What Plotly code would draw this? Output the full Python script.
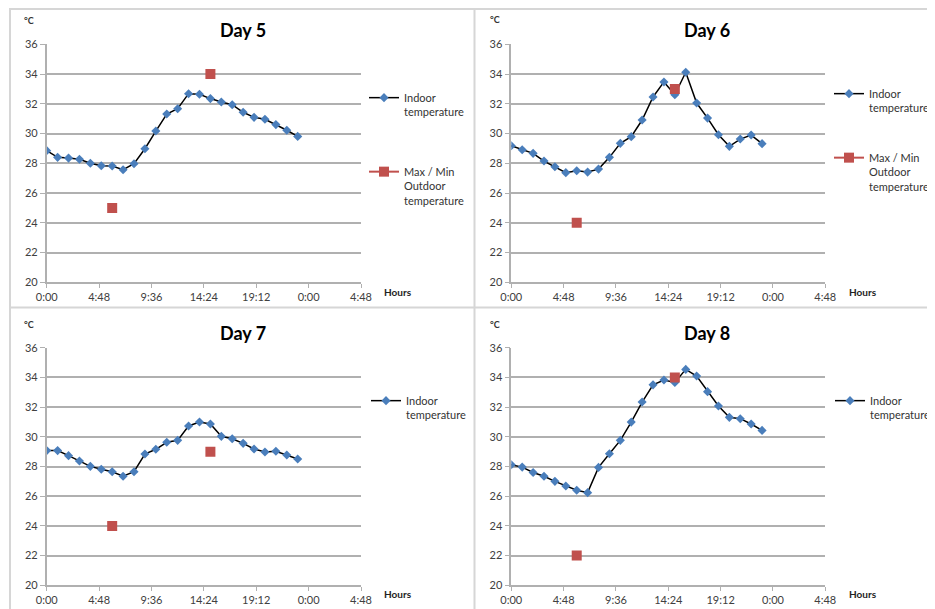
import plotly.graph_objects as go

# page offset of the figure inside the browser body (default body margin)
OFF = 8
W_PAGE, H_PAGE = 935, 609
W, H = W_PAGE - OFF, H_PAGE - OFF

# ---------------- data ----------------
hours = list(range(24))
outdoor_hours = [6, 15]
day_titles = ["Day 5", "Day 6", "Day 7", "Day 8"]

day5_indoor = [28.85, 28.4, 28.35, 28.27, 28.0, 27.84, 27.82, 27.57, 27.97, 28.98, 30.17, 31.31,
               31.67, 32.68, 32.64, 32.35, 32.12, 31.94, 31.43, 31.09, 30.96, 30.6, 30.22, 29.81]
day6_indoor = [29.18, 28.91, 28.67, 28.15, 27.77, 27.37, 27.5, 27.41, 27.61, 28.4, 29.34, 29.79,
               30.91, 32.46, 33.47, 32.61, 34.12, 32.05, 31.04, 29.92, 29.14, 29.63, 29.9, 29.32]
day7_indoor = [29.07, 29.07, 28.73, 28.37, 28.01, 27.81, 27.65, 27.34, 27.65, 28.84, 29.16, 29.63,
               29.76, 30.73, 31.0, 30.86, 30.03, 29.87, 29.56, 29.18, 28.98, 29.03, 28.77, 28.5]
day8_indoor = [28.12, 27.96, 27.6, 27.34, 27.0, 26.69, 26.4, 26.24, 27.94, 28.86, 29.76, 30.99,
               32.34, 33.5, 33.82, 33.66, 34.54, 34.09, 33.04, 32.07, 31.31, 31.22, 30.86, 30.43]

day5_outdoor = [25, 34]
day6_outdoor = [24, 33]
day7_outdoor = [24, 29]
day8_outdoor = [22, 34]

x_tick_vals = [0, 4.8, 9.6, 14.4, 19.2, 24, 28.8]
x_tick_text = ["0:00", "4:48", "9:36", "14:24", "19:12", "0:00", "4:48"]
y_tick_vals = [20, 22, 24, 26, 28, 30, 32, 34, 36]

indoor_name = "Indoor<br>temperature"
outdoor_name = "Max / Min<br>Outdoor<br>temperature"

indoor_all = [day5_indoor, day6_indoor, day7_indoor, day8_indoor]
outdoor_all = [day5_outdoor, day6_outdoor, day7_outdoor, day8_outdoor]
outdoor_in_legend = [True, True, False, False]

# ---------------- layout geometry (page pixels) ----------------
# plot areas: left, right, top, bottom
boxes = [(46.7, 361.0, 44.3, 282.3), (511.3, 825.3, 44.3, 282.3),
         (46.7, 361.0, 347.7, 585.3), (511.3, 825.3, 347.7, 585.3)]
title_pos = [(242.7, 30), (707, 30), (242.7, 333), (707, 333)]
deg_pos = [(29, 21), (494.7, 20), (29, 324), (494.7, 324)]
hours_pos = [(398, 292), (862.7, 292), (398, 594), (862.7, 594)]
# (x where legend text starts, y of first legend text line)
legend_indoor_pos = [(404, 97), (869, 93), (406, 400), (870, 400)]
legend_outdoor_pos = [(404, 171), (869, 157)]

def px(x):
    return (x - OFF) / W

def py(y):
    return 1 - (y - OFF) / H

FONT = "Lato, 'Open Sans', sans-serif"
GRID = "#b0b0b0"
TXT = "#404040"

fig = go.Figure()
layout = dict(
    width=W, height=H, margin=dict(l=0, r=0, t=0, b=0, autoexpand=False),
    paper_bgcolor="white", plot_bgcolor="white",
    font=dict(family=FONT, size=11, color=TXT),
    annotations=[], shapes=[],
)

def legend_box(pos):
    lx, ly = pos
    return dict(x=px(lx - 40), y=py(ly - 13), xanchor="left", yanchor="top",
                bgcolor="rgba(0,0,0,0)", itemwidth=30, valign="top",
                font=dict(size=11, color="#333333", family=FONT))

legend_count = 0
for i in range(4):
    l, r, t, b = boxes[i]
    sfx = "" if i == 0 else str(i + 1)
    layout["xaxis" + sfx] = dict(
        domain=[px(l), px(r)], anchor="y" + sfx, range=[0, 28.8],
        tickvals=x_tick_vals, ticktext=x_tick_text, ticks="outside", ticklen=4,
        tickcolor=GRID, showline=True, linecolor=GRID, linewidth=1.5,
        showgrid=False, zeroline=False, tickfont=dict(size=11, color=TXT),
    )
    layout["yaxis" + sfx] = dict(
        domain=[py(b), py(t)], anchor="x" + sfx, range=[20, 36],
        tickvals=y_tick_vals, ticks="outside", ticklen=5, tickcolor=GRID,
        showline=True, linecolor=GRID, linewidth=1.5, showgrid=True,
        gridcolor=GRID, gridwidth=1.5, zeroline=False,
        tickfont=dict(size=11, color=TXT),
    )

    legend_count += 1
    lg_in = "legend" if legend_count == 1 else "legend%d" % legend_count
    layout[lg_in] = legend_box(legend_indoor_pos[i])
    fig.add_trace(go.Scatter(
        x=hours, y=indoor_all[i], mode="lines+markers", name=indoor_name,
        line=dict(color="black", width=1.5),
        marker=dict(symbol="diamond", size=7, color="#4a7ebb"),
        xaxis="x" + sfx, yaxis="y" + sfx, legend=lg_in, showlegend=True,
    ))

    ox, oy = [], []
    for k, (hh, vv) in enumerate(zip(outdoor_hours, outdoor_all[i])):
        if k > 0:
            ox.append(None)
            oy.append(None)
        ox.append(hh)
        oy.append(vv)
    if outdoor_in_legend[i]:
        legend_count += 1
        lg_out = "legend%d" % legend_count
        layout[lg_out] = legend_box(legend_outdoor_pos[i])
    else:
        lg_out = lg_in
    fig.add_trace(go.Scatter(
        x=ox, y=oy, mode="lines+markers", name=outdoor_name, connectgaps=False,
        line=dict(color="#c0504d", width=2),
        marker=dict(symbol="square", size=10, color="#c0504d"),
        xaxis="x" + sfx, yaxis="y" + sfx, legend=lg_out,
        showlegend=outdoor_in_legend[i],
    ))

    tx, ty = title_pos[i]
    layout["annotations"].append(dict(
        text="<b>%s</b>" % day_titles[i], x=px(tx), y=py(ty), xref="paper", yref="paper",
        xanchor="center", yanchor="middle", showarrow=False,
        font=dict(size=18, color="black", family=FONT)))
    dx, dy = deg_pos[i]
    layout["annotations"].append(dict(
        text="<b>°C</b>", x=px(dx), y=py(dy), xref="paper", yref="paper",
        xanchor="center", yanchor="middle", showarrow=False,
        font=dict(size=9, color="#333333", family=FONT)))
    hx, hy = hours_pos[i]
    layout["annotations"].append(dict(
        text="<b>Hours</b>", x=px(hx), y=py(hy), xref="paper", yref="paper",
        xanchor="center", yanchor="middle", showarrow=False,
        font=dict(size=10, color="#222222", family=FONT)))

# panel borders
BORDER = "#d6d6d6"
for (x0, y0, x1, y1) in [(10, 9, W_PAGE, 9), (10, 8, 10, H_PAGE), (474.5, 8, 474.5, H_PAGE),
                         (10, 307.5, W_PAGE, 307.5)]:
    layout["shapes"].append(dict(type="line", xref="paper", yref="paper",
                                 x0=px(x0), y0=py(y0), x1=px(x1), y1=py(y1),
                                 line=dict(color=BORDER, width=2)))

fig.update_layout(**layout)
fig.write_html("out.html")
